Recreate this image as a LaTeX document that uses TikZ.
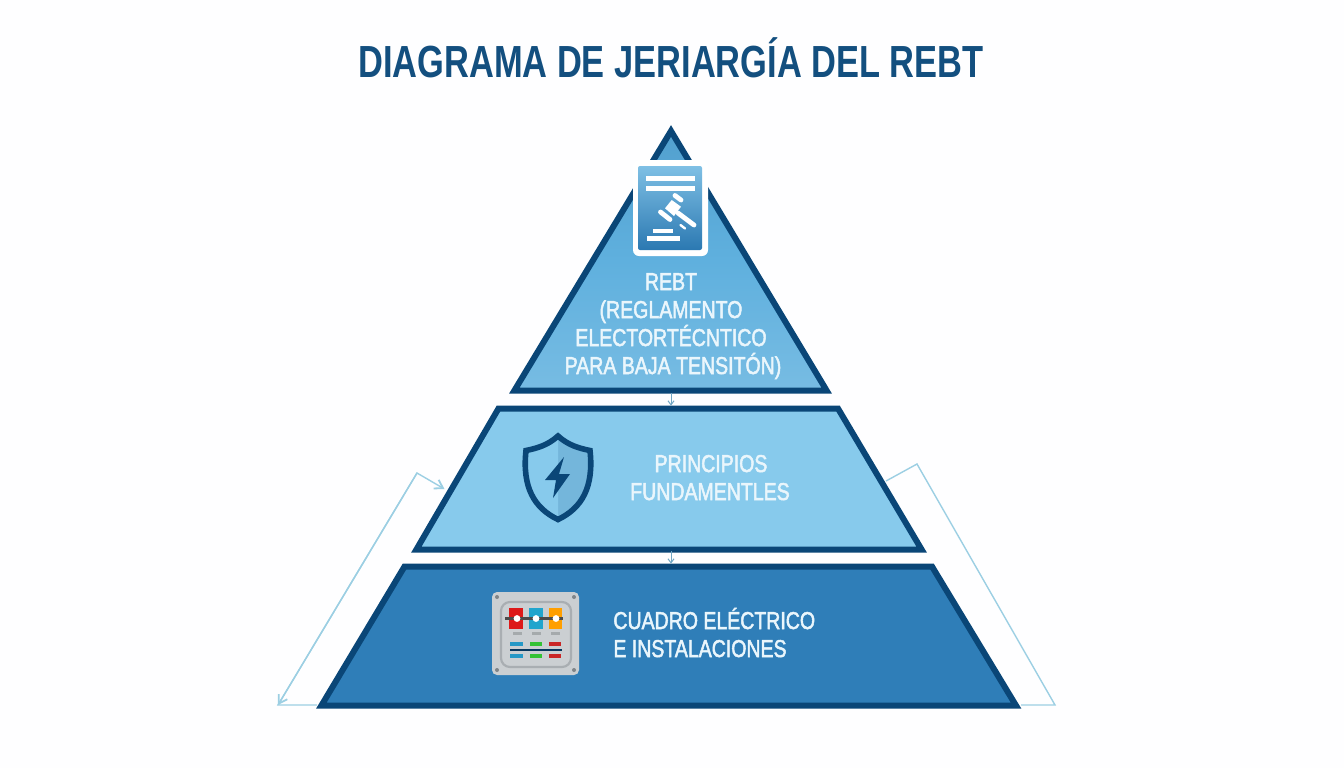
\documentclass[tikz,border=0pt]{standalone}
\usepackage{fontspec}
\setmainfont{Liberation Sans}
\newfontfamily\titlefont{Liberation Sans}[FakeStretch=0.765]
\newfontfamily\labelfont{Liberation Sans}[FakeStretch=0.80,FakeBold=2]
\usetikzlibrary{arrows.meta}
\definecolor{navy}{HTML}{0A4677}
\definecolor{titleblue}{HTML}{134F7F}
\definecolor{topfill}{HTML}{5FB0DE}
\definecolor{midfill}{HTML}{87CAEC}
\definecolor{lowfill}{HTML}{2F7EB8}
\definecolor{linkblue}{HTML}{9CCFE3}
\definecolor{labelwhite}{HTML}{EAF6FC}
\definecolor{plate}{HTML}{CBCFD2}
\definecolor{plateline}{HTML}{A9AEB2}
\definecolor{platedark}{HTML}{7F8589}
\tikzset{
  layer/.style={draw=navy,line width=3pt,miter limit=10,line join=miter},
  label/.style={text=labelwhite,font=\labelfont\fontsize{12.2pt}{14pt}\selectfont,inner sep=0pt},
  link/.style={draw=linkblue,line width=0.7pt},
  tip/.style={-{Straight Barb[length=4pt,width=5pt,line width=0.9pt]}},
  small/.style={draw=linkblue!70!navy,line width=0.5pt,-{Straight Barb[length=2pt,width=3pt]}}
}
\begin{document}
\begin{tikzpicture}[x=0.5pt,y=-0.5pt]
\useasboundingbox (0,0) rectangle (1344,768);
\fill[white!99!linkblue] (0,0) rectangle (1344,768);
\node[font=\titlefont\fontsize{22.5pt}{26pt}\selectfont\bfseries,text=titleblue,inner sep=0pt,anchor=base] (title) at (671,77) {DIAGRAMA DE JERIARGÍA DEL REBT};

% layers
\draw[layer,top color=topfill!85!navy,bottom color=topfill!85!white,middle color=topfill] (671,131) -- (826.6,390.5) -- (514.4,390.5) -- cycle;
\draw[layer,fill=midfill] (498.5,408.5) -- (838,408.5) -- (921.6,549.5) -- (416.4,549.5) -- cycle;
\draw[layer,fill=lowfill] (404.5,566.5) -- (932,566.5) -- (1016,705.5) -- (321.4,705.5) -- cycle;

% invisible anchors of the three layers
\node[inner sep=0pt,minimum width=160pt,minimum height=133.5pt] (layerA) at (671,259.5) {};
\node[inner sep=0pt,minimum width=170pt,minimum height=72.5pt] (layerB) at (671,478.5) {};
\node[inner sep=0pt,minimum width=250pt,minimum height=72pt] (layerC) at (671,636) {};
\coordinate (la) at (278,705);
\coordinate (lb) at (417,473);
\coordinate (lc) at (444.5,489);
\coordinate (ld) at (317,705);
\coordinate (ra) at (886,481);
\coordinate (rb) at (917,464);
\coordinate (rc) at (1055,705);
\coordinate (rd) at (1021,705);

% connectors
\draw[small] (layerA.south) -- (layerB.north);
\draw[small] (layerB.south) -- (layerC.north);
\draw[link,tip] (ld) -- (la) -- (lb) -- (lc);
\draw[link,{Straight Barb[length=4pt,width=5pt,line width=0.9pt]}-] (la) -- (lb);
\draw[link] (ra) -- (rb) -- (rc) -- (rd);

% document icon
\fill[white,rounded corners=3pt] (633,160) rectangle (708,256);
\shade[top color=topfill!80!white,bottom color=lowfill!90!navy,rounded corners=1pt] (638,166) rectangle (702,250);
\fill[white] (646,176) rectangle (695,180.5);
\fill[white] (646,186) rectangle (695,190.5);
\fill[white] (647,236) rectangle (680,240.5);
\fill[white] (653,229) rectangle (673,233);
\fill[white] (671.7,200) -- (665,208.3) -- (674,216) -- (681,206.7) -- cycle;
\draw[white,line width=2.4pt,line cap=round] (675,195.5) -- (681,200);
\draw[white,line width=2.4pt,line cap=round] (660.5,212) -- (670,219.5);
\draw[white,line width=2.4pt,line cap=round] (678,213) -- (694,225);
\draw[white,line width=1.2pt,line cap=round] (680.5,225) -- (685,228.5);

% shield icon
\fill[midfill!85!navy] (558,437) .. controls (568,446) and (578,449) .. (590,451) .. controls (592,485) and (582,507) .. (558,519) -- cycle;
\fill[midfill] (558,437) .. controls (548,446) and (538,449) .. (526,451) .. controls (524,485) and (534,507) .. (558,519) -- cycle;
\draw[navy,line width=2.8pt,line join=miter] (558,436) .. controls (548,445) and (538,448) .. (526,450.5) .. controls (522,487) and (534,508) .. (558,519.5) .. controls (582,508) and (594,487) .. (590,450.5) .. controls (578,448) and (568,445) .. cycle;
\fill[navy] (564,457) -- (545,480) -- (556,480) -- (553,498) -- (570,474) -- (559,474) -- cycle;

% electrical panel icon
\fill[plate,rounded corners=2.5pt] (492,592) rectangle (579,675);
\foreach \px/\py in {497/597,574/597,497/670,574/670}{\fill[platedark] (\px,\py) circle (1pt);}
\draw[plateline,line width=1.1pt,rounded corners=4.5pt] (501,602) rectangle (571,667);
\fill[red!85!black!90!white] (509,608) rectangle (523,629);
\fill[lowfill!70!cyan] (529,608) rectangle (543,629);
\fill[orange!75!yellow] (549,608) rectangle (562,629);
\draw[black!70,line width=1.5pt] (505,618.5) -- (563,618.5);
\foreach \dx in {517,536,556}{\fill[white] (\dx,618.5) circle (1.7pt);}
\foreach \dx/\ex in {513/522,532/541,551/560}{\fill[platedark!70!white] (\dx,632) rectangle (\ex,634.5);}
\foreach \ry in {644,656}{
  \fill[lowfill!80!cyan] (510,\ry-2) rectangle (523,\ry+2);
  \fill[green!70!black!80!white] (530,\ry-2) rectangle (542,\ry+2);
  \fill[red!75!black!85!white] (549,\ry-2) rectangle (561,\ry+2);
}
\draw[navy!80!black,line width=0.9pt] (510,650) -- (562,650);

% labels
\node[label,anchor=base] (t1) at (671,290) {REBT};
\node[label,anchor=base] (t2) at (671,318) {(REGLAMENTO};
\node[label,anchor=base] (t3) at (671,346) {ELECTORTÉCNTICO};
\node[label,anchor=base] (t4) at (673,374) {PARA BAJA TENSITÓN)};
\node[label,anchor=base] (t5) at (711,472) {PRINCIPIOS};
\node[label,anchor=base] (t6) at (710,500) {FUNDAMENTLES};
\node[label,anchor=base west] (t7) at (613,629) {CUADRO ELÉCTRICO};
\node[label,anchor=base west] (t8) at (613,657) {E INSTALACIONES};
\end{tikzpicture}
\end{document}
